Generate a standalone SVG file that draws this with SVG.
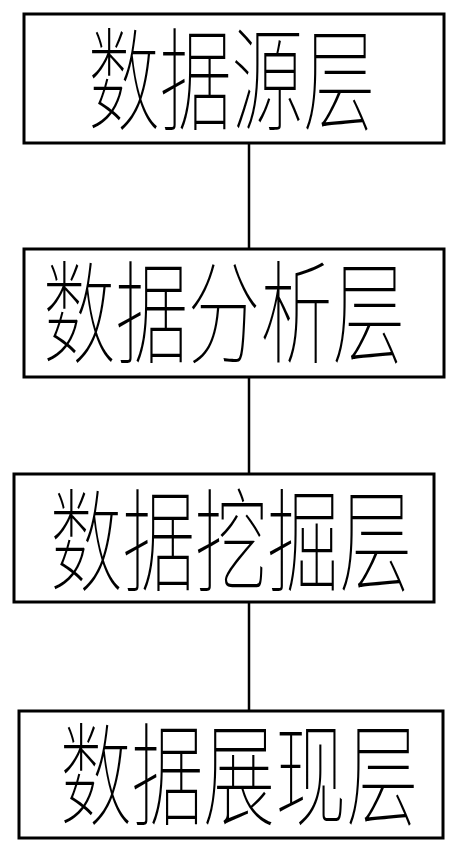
<svg xmlns="http://www.w3.org/2000/svg" width="458" height="852" viewBox="0 0 458 852">
<style>
.box{fill:#fff;stroke:#000;stroke-width:3}
.lbl{font-family:"Noto Sans CJK SC","Noto Sans CJK JP",sans-serif;font-size:112px;font-weight:100;fill:#000}
.conn{stroke:#000;stroke-width:2.5;fill:none}
</style>
<rect width="458" height="852" fill="#fff"/>
<g id="connectors">
<line class="conn" x1="249" y1="143" x2="249" y2="248"/>
<line class="conn" x1="249" y1="377" x2="249" y2="474"/>
<line class="conn" x1="249" y1="602" x2="249" y2="711"/>
</g>
<g id="node1">
<rect class="box" x="24" y="14" width="420" height="129"/>
<text class="lbl" x="88" y="122" textLength="287" lengthAdjust="spacingAndGlyphs">数据源层</text>
</g>
<g id="node2">
<rect class="box" x="24" y="249" width="420" height="128"/>
<text class="lbl" x="43" y="355" textLength="362" lengthAdjust="spacingAndGlyphs">数据分析层</text>
</g>
<g id="node3">
<rect class="box" x="14" y="474" width="420" height="128"/>
<text class="lbl" x="50" y="583" textLength="362" lengthAdjust="spacingAndGlyphs">数据挖掘层</text>
</g>
<g id="node4">
<rect class="box" x="19" y="711" width="424" height="127"/>
<text class="lbl" x="60" y="817" textLength="358" lengthAdjust="spacingAndGlyphs">数据展现层</text>
</g>
</svg>
